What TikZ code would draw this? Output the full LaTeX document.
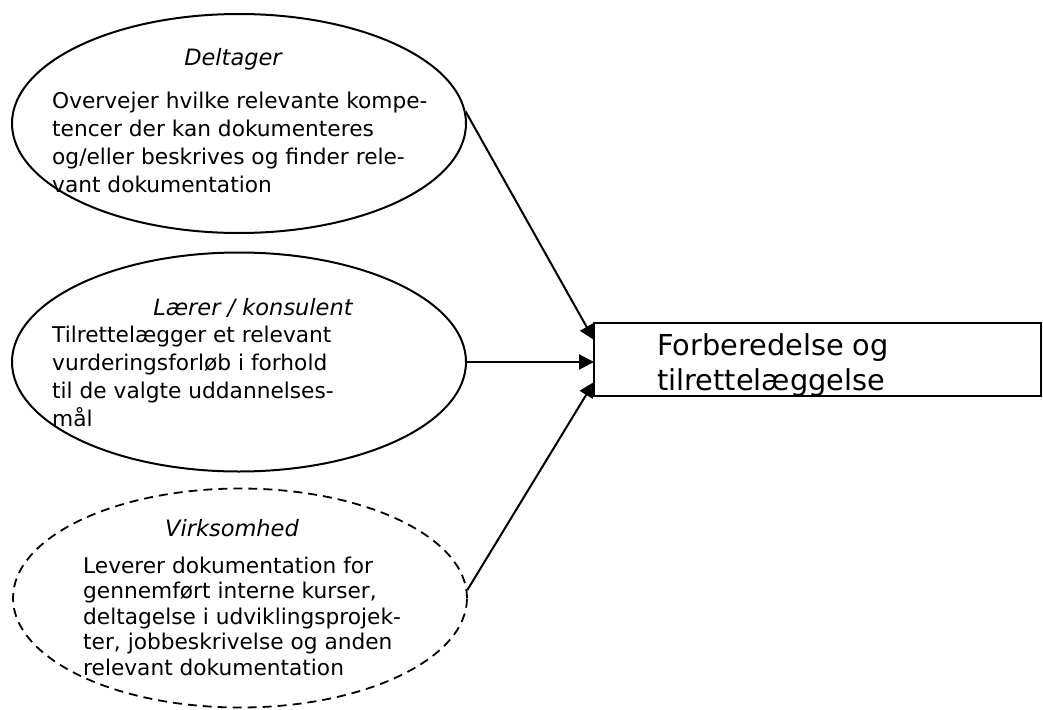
\documentclass[tikz,border=0pt]{standalone}
\usepackage{fontspec}
\setmainfont{DejaVu Sans}
\usetikzlibrary{shapes.geometric,arrows.meta,positioning}

\tikzset{
  actor/.style={ellipse, draw, line width=2pt, minimum width=454pt, minimum height=219pt, inner sep=0pt},
  optactor/.style={actor, line width=1.8pt, dash pattern=on 9pt off 6pt},
  role/.style={anchor=base, inner sep=0pt, font=\fontsize{22.5}{28}\selectfont\itshape},
  task/.style={anchor=base west, align=left, inner sep=0pt, font=\fontsize{21.7}{28}\selectfont},
  flow/.style={line width=2pt, -{Triangle[length=15pt,width=15pt]}},
}

\begin{document}
\begin{tikzpicture}[x=1pt,y=-1pt]
    \useasboundingbox (0,0) rectangle (1043,709);

    % the three parties
    \node[actor] (deltager) at (239,123.5) {};
    \node[actor] (laerer) at (239,362) {};
    \node[optactor] (virksomhed) at (240,598) {};

    % base of a multi-line node is its last line
    \node[role] (deltagerrolle) at (233,65) {Deltager};
    \node[task] (deltageropgave) at (52,192) {Overvejer hvilke relevante kompe-\\tencer der kan dokumenteres\\og/eller beskrives og finder rele-\\vant dokumentation};

    \node[role] (laererrolle) at (253,315) {Lærer / konsulent};
    \node[task] (laereropgave) at (52,426) {Tilrettelægger et relevant\\vurderingsforløb i forhold\\til de valgte uddannelses-\\mål};

    \node[role] (virksomhedrolle) at (232,536) {Virksomhed};
    \node[task, font=\fontsize{21.7}{25.5}\selectfont] (virksomhedopgave) at (83,675) {Leverer dokumentation for\\gennemført interne kurser,\\deltagelse i udviklingsprojek-\\ter, jobbeskrivelse og anden\\relevant dokumentation};

    % the phase
    \node[draw, line width=2pt, minimum width=447pt, minimum height=73pt, inner sep=0pt] (fase) at (817.5,359.5) {};
    \node[task, font=\fontsize{28.8}{35}\selectfont] (fasetekst) at (657,390) {Forberedelse og\\tilrettelæggelse};

    \coordinate (ind1) at (594,340);
    \coordinate (ind2) at (594,362);
    \coordinate (ind3) at (594,382);

    \draw[flow] (deltager.3.4) -- (ind1);
    \draw[flow] (laerer.east) -- (ind2);
    \draw[flow] (virksomhed.2) -- (ind3);
\end{tikzpicture}
\end{document}
